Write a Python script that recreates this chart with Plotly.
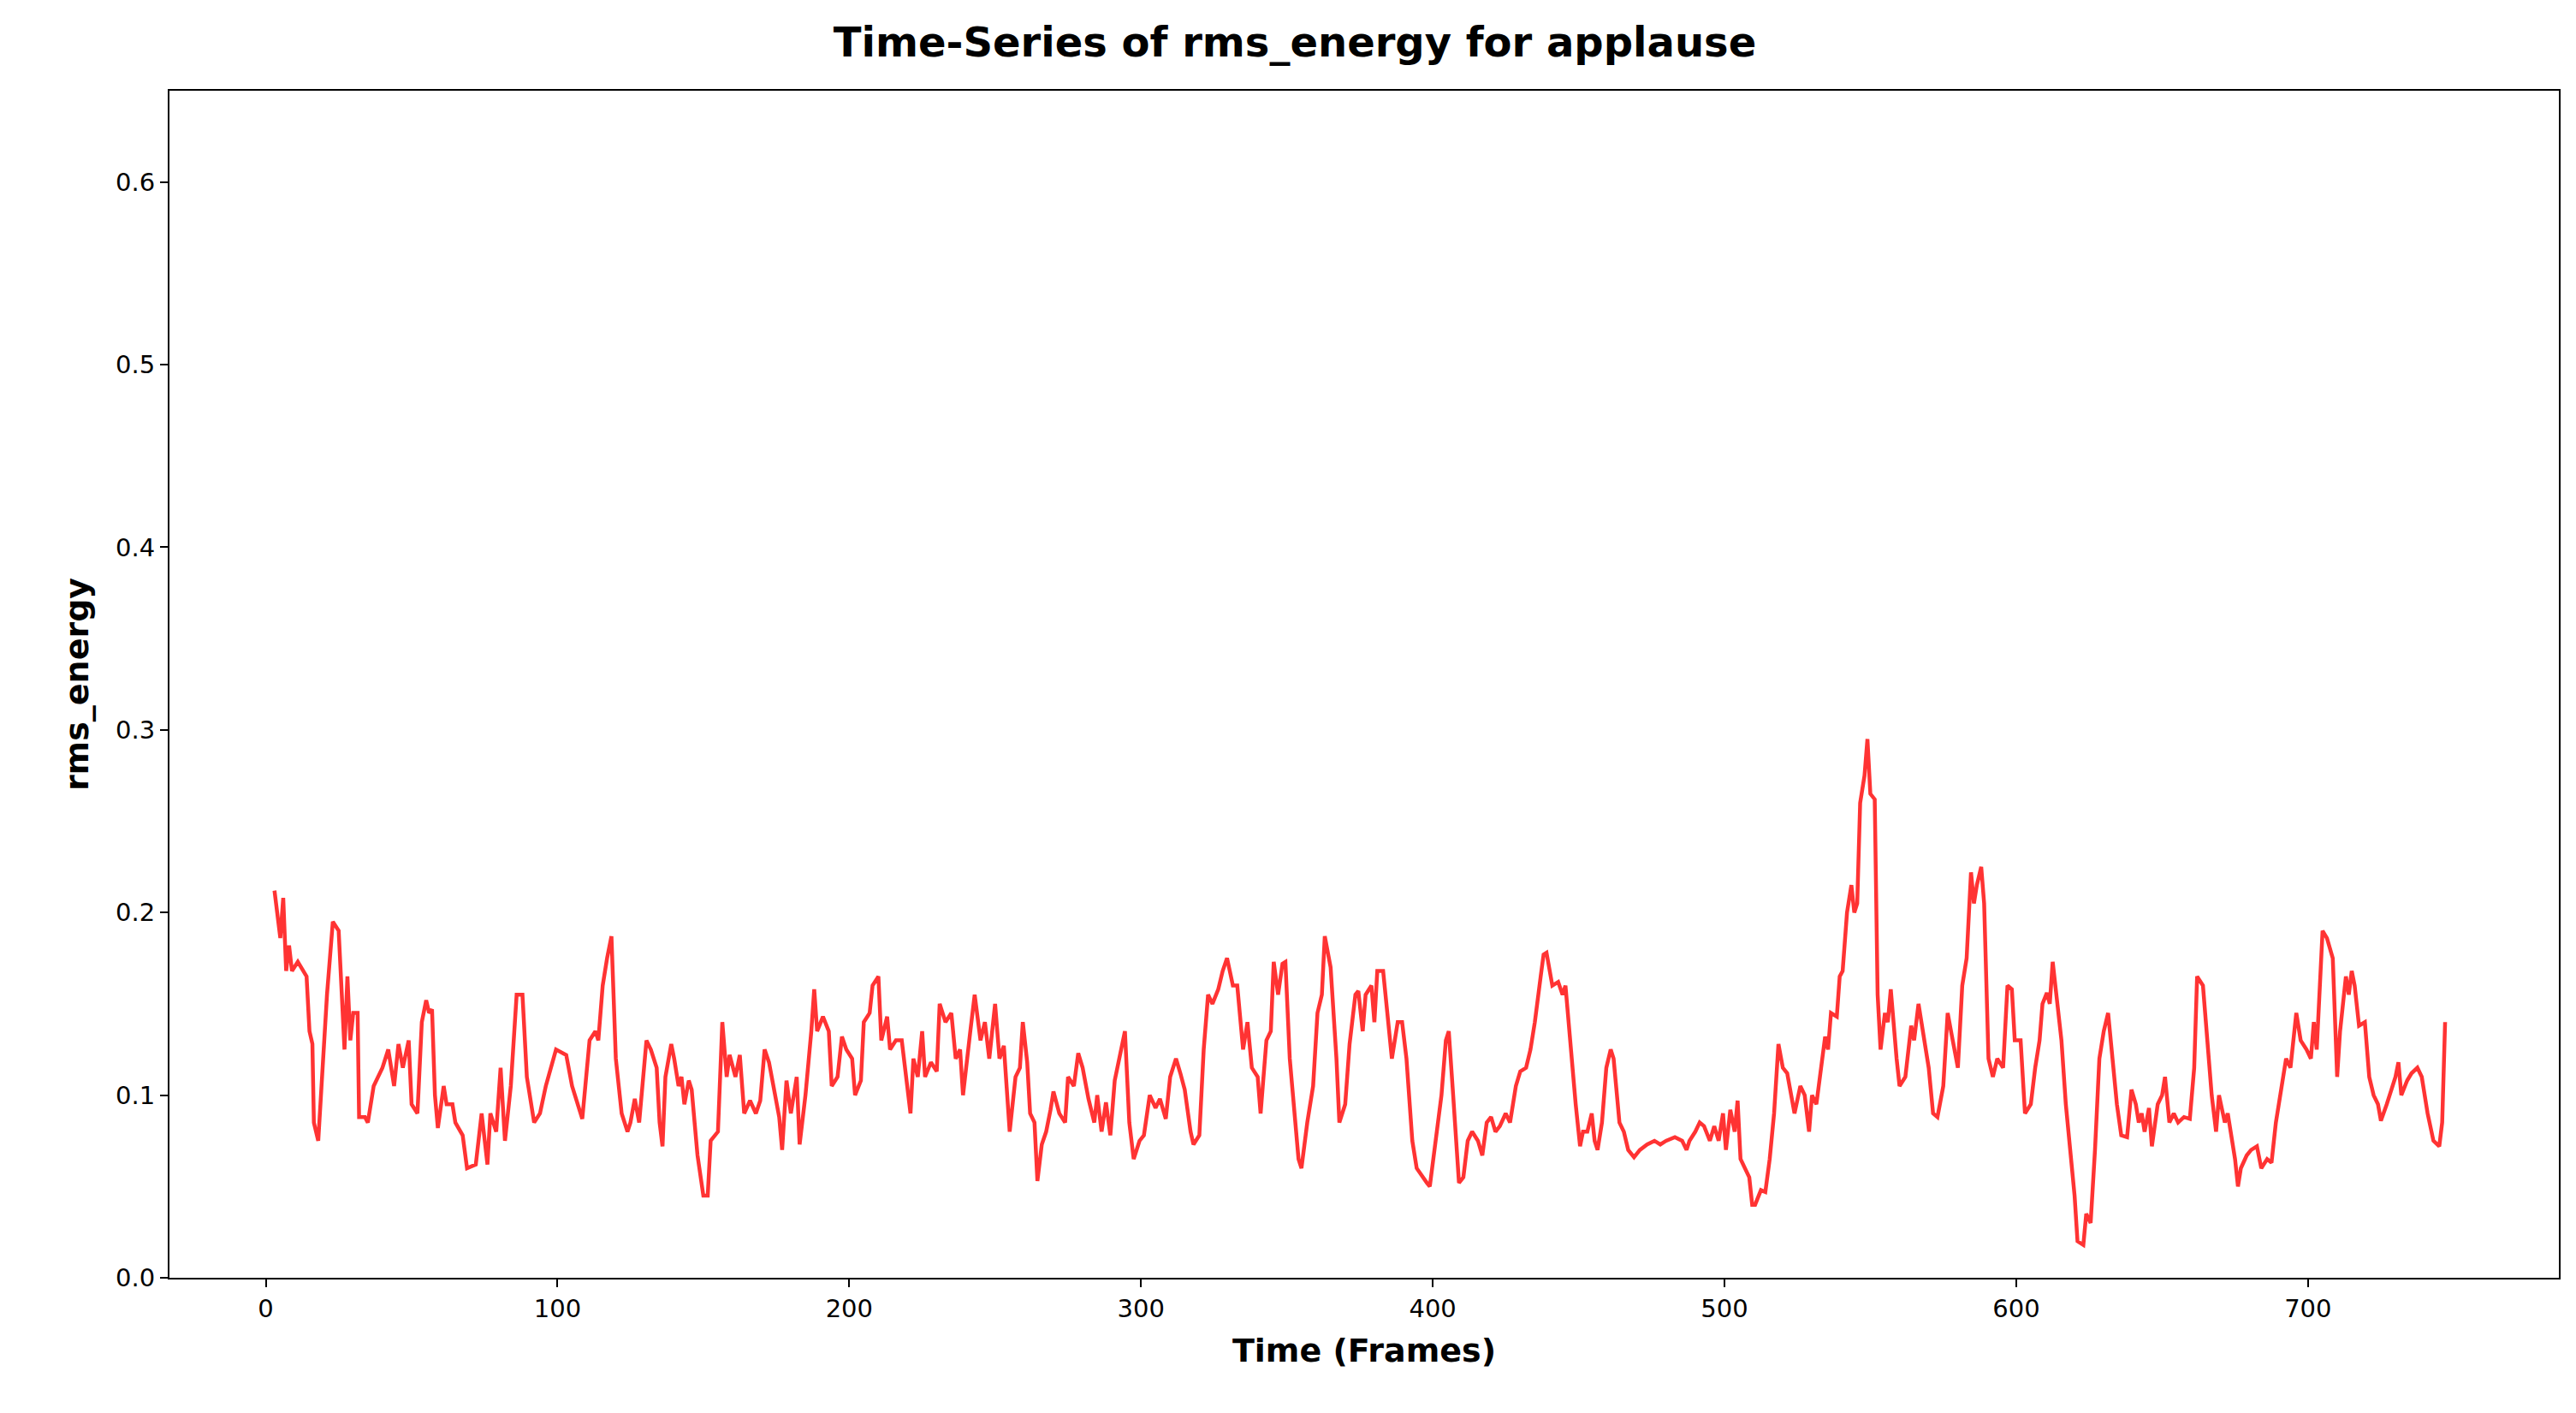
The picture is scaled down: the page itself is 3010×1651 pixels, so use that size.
import plotly.graph_objects as go

frames = [3,5,6,7,8,9,11,14,15,16,16.5,18,21,23,25,27,28,29,30,31.5,32,34,35,37,40,42,44,45.5,47,49,50,52,53.5,55,56,57,58,59,61,62,64,65,67.5,69,72,74,76,77,79,80.5,82,84,86,88,89.5,92,94,96,99.5,103,105,107,108.5,111,113,114,115.5,117,118.5,120,122,124,125,126.5,128,130.5,132,134,135,136,137,139,140,141.5,142.5,143.5,145,146,148,150,151.5,152.5,155,156.5,158,159,161,162.5,164,166,168,169.5,171,172.5,174,176,177,178.5,180,182,183,185,187,188,189,191,193,194,196,197.5,199,201,202,204,205,207,208,210,211,213,214,216,218,220,221,222,223.5,225,226,228,230,231,233,235,236.5,238,239,241.5,243,245,246.5,248,250,251.5,253,255,257,258.5,259.5,261,262,263.5,264.5,266,267.5,269,270,272,274,275,277,278.5,280,282,284,285,286.5,288,289.5,291,292.5,294.5,296,297.5,299.5,301,303,305,306.5,308.5,310,312,313.5,315,317,318,320,321.5,323,324.5,326.5,328,329.5,331.5,333,335,336.5,338,340,341,343,344.5,345.5,347,348.5,349.5,351,352.5,354,355,357,359,360.5,362,363,365,367,368,370,371.5,373.5,374.5,376,377,379,380,381,383,384.5,386,388,389.5,391,393,394.5,396.5,398,399,401,403,404.5,405.5,407,409,410.5,412,413.5,415.5,417,418.5,420,421.5,423,425,426.5,428.5,430,432,433.5,435,437,438,439,441,443,444.5,445.5,447,449,450.5,451.5,453,454.5,455.5,456.5,458,459.5,461,462,464,465.5,467,469,471,473.5,476,478,480,483,485.5,487,488,490,491.5,493,495,496.5,498,499.5,500.5,502,503.5,504.5,505.5,507,508.5,509.5,510.5,512.5,514,515.5,517,518.5,520,521.5,523,524,526,527.5,529,530,531.5,533,534.5,535.5,536.5,538.5,539.5,540.5,542,543.5,544.5,545.5,546.5,548,549,550,551.5,552.5,553.5,555,556,557,558,559,560,562,564,565,566.5,568,570,571.5,573,575,576.5,578,580,581.5,583,584.5,585.5,586.5,588,589,590.5,592,593.5,595.5,597,598.5,599.5,601.5,603,605,606.5,608,609,610.5,611.5,612.5,614,615.5,617,619,620,621,623,624,625.5,627,628.5,630,631.5,633,634.5,636,638,639.5,641,642,643,644,645.5,646.5,648.5,650,651,652.5,654,655.5,657.5,659.5,661,662,664,665,667,668.5,669.5,671.5,672.5,674.5,675,676,677,679,680.5,682.5,684,686,687.5,689,691,692.5,694,696,697.5,699.5,701,702,703,705,706.5,708.5,710,711,713,714,715,716,717.5,719.5,721,722.5,724,725,727,728.5,730,731,732,734,735.5,737.5,739,741,743,745,746,747]
rms_energy = [.212,.186,.208,.168,.182,.168,.173,.165,.135,.128,.085,.075,.155,.195,.19,.125,.165,.13,.145,.145,.088,.088,.085,.105,.115,.125,.105,.128,.115,.13,.095,.09,.14,.152,.145,.147,.10,.082,.105,.095,.095,.085,.078,.06,.062,.09,.062,.09,.08,.115,.075,.105,.155,.155,.11,.085,.09,.105,.125,.122,.105,.095,.087,.13,.135,.13,.16,.175,.187,.12,.09,.08,.085,.098,.085,.13,.125,.115,.085,.072,.11,.128,.12,.105,.11,.095,.108,.103,.067,.045,.045,.075,.08,.14,.11,.122,.11,.122,.09,.097,.09,.097,.125,.118,.105,.088,.07,.108,.09,.11,.073,.1,.135,.158,.135,.143,.135,.105,.11,.132,.125,.12,.1,.108,.14,.145,.16,.165,.13,.143,.125,.13,.13,.105,.09,.12,.11,.135,.11,.118,.113,.15,.14,.145,.12,.125,.1,.135,.155,.13,.14,.12,.15,.12,.127,.08,.11,.115,.14,.118,.09,.085,.053,.073,.08,.092,.102,.09,.085,.11,.105,.123,.115,.098,.085,.1,.08,.096,.078,.108,.12,.135,.085,.065,.075,.078,.1,.093,.098,.087,.11,.12,.112,.103,.08,.073,.078,.125,.155,.15,.158,.168,.175,.16,.16,.125,.14,.115,.11,.09,.13,.135,.173,.155,.172,.173,.12,.09,.065,.06,.085,.105,.145,.155,.187,.17,.12,.085,.095,.128,.155,.157,.135,.155,.16,.14,.168,.168,.145,.12,.14,.14,.12,.075,.06,.055,.052,.05,.075,.1,.13,.135,.1,.052,.055,.075,.08,.075,.067,.085,.088,.08,.083,.09,.085,.105,.113,.115,.125,.14,.165,.177,.178,.16,.162,.155,.16,.13,.095,.072,.08,.08,.09,.075,.07,.085,.115,.125,.12,.085,.08,.07,.066,.07,.073,.075,.073,.075,.077,.075,.07,.075,.08,.085,.083,.075,.083,.075,.09,.07,.092,.08,.097,.065,.06,.055,.04,.04,.048,.047,.065,.09,.128,.115,.112,.098,.09,.105,.1,.08,.1,.095,.113,.132,.125,.145,.143,.165,.168,.2,.215,.2,.205,.26,.275,.295,.265,.262,.155,.125,.145,.14,.158,.138,.12,.105,.11,.138,.13,.15,.135,.115,.09,.088,.105,.145,.132,.115,.16,.175,.222,.205,.215,.225,.205,.12,.11,.12,.115,.16,.158,.13,.13,.09,.095,.115,.13,.15,.156,.15,.173,.15,.13,.095,.06,.045,.02,.018,.035,.03,.07,.12,.135,.145,.12,.095,.078,.077,.103,.095,.085,.09,.08,.093,.072,.095,.1,.11,.085,.09,.085,.088,.087,.115,.165,.16,.14,.1,.08,.1,.085,.09,.07,.065,.05,.06,.067,.07,.072,.06,.065,.063,.085,.105,.12,.115,.145,.13,.125,.12,.14,.125,.19,.186,.175,.11,.135,.165,.155,.168,.16,.138,.14,.11,.1,.095,.086,.095,.103,.11,.118,.1,.108,.112,.115,.11,.09,.075,.072,.085,.14]

x_ticks = [0, 100, 200, 300, 400, 500, 600, 700]
y_ticks = [0.0, 0.1, 0.2, 0.3, 0.4, 0.5, 0.6]

fig = go.Figure()
fig.add_trace(go.Scatter(x=frames, y=rms_energy, mode="lines",
                         line=dict(color="rgba(255,0,0,0.8)", width=4.5), showlegend=False))

axis_common = dict(showline=True, mirror=True, linecolor="black", linewidth=2,
                   ticks="outside", ticklen=9, tickwidth=2, tickcolor="black",
                   showgrid=False, zeroline=False,
                   tickfont=dict(family="DejaVu Sans", size=29, color="black"))
fig.update_layout(
    width=3010, height=1651,
    paper_bgcolor="white", plot_bgcolor="white",
    margin=dict(l=190, r=28, t=98, b=166),
    title=dict(text="<b>Time-Series of rms_energy for applause</b>", x=0.5, xanchor="center",
               y=0.985, yanchor="top",
               font=dict(family="DejaVu Sans", size=48, color="black")),
    xaxis=dict(range=[-33, 786], tickvals=x_ticks, ticktext=[str(v) for v in x_ticks],
               title=dict(text="<b>Time (Frames)</b>", standoff=20,
                          font=dict(family="DejaVu Sans", size=38, color="black")), **axis_common),
    yaxis=dict(range=[0, 0.65], tickvals=y_ticks, ticktext=[f"{v:.1f}" for v in y_ticks],
               title=dict(text="<b>rms_energy</b>", standoff=20,
                          font=dict(family="DejaVu Sans", size=38, color="black")), **axis_common),
)
fig.write_html("out.html")
